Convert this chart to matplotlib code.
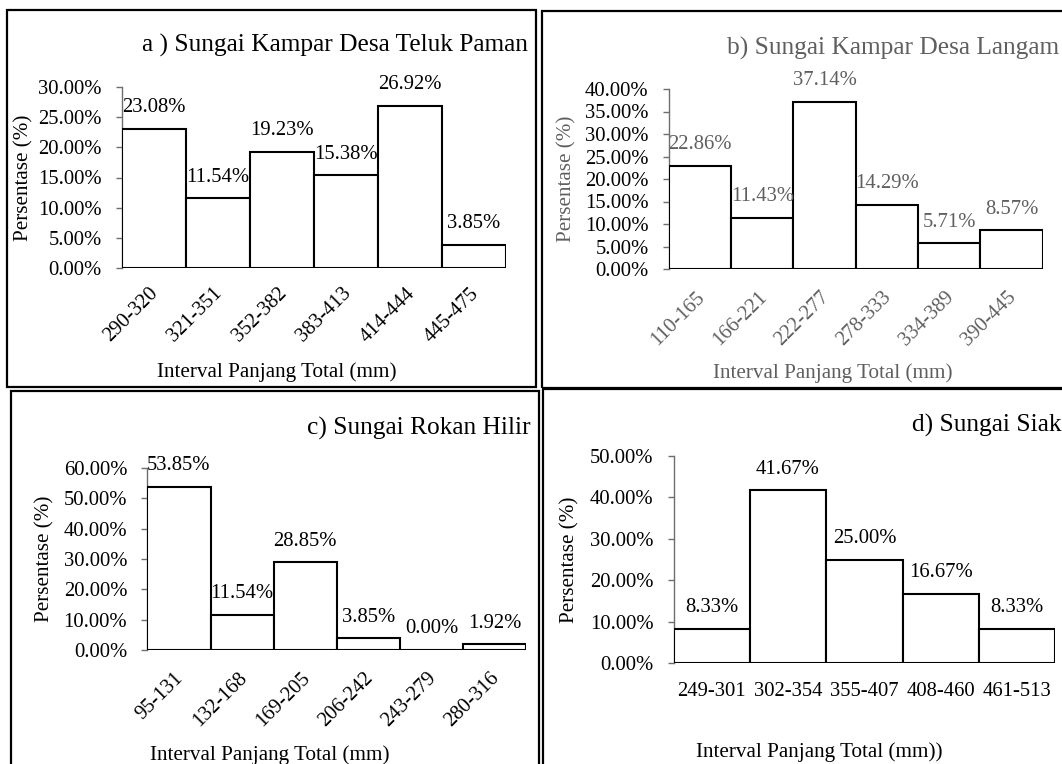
import matplotlib
matplotlib.use("Agg")
import matplotlib.pyplot as plt
from matplotlib.patches import Rectangle
from matplotlib.ticker import PercentFormatter
from matplotlib.transforms import ScaledTranslation

plt.rcParams['font.family'] = ['Liberation Serif', 'DejaVu Serif']

W, H = 1062, 764

# ---- data -------------------------------------------------------------
bins_a = ["290-320", "321-351", "352-382", "383-413", "414-444", "445-475"]
pct_a = [23.08, 11.54, 19.23, 15.38, 26.92, 3.85]

bins_b = ["110-165", "166-221", "222-277", "278-333", "334-389", "390-445"]
pct_b = [22.86, 11.43, 37.14, 14.29, 5.71, 8.57]

bins_c = ["95-131", "132-168", "169-205", "206-242", "243-279", "280-316"]
pct_c = [53.85, 11.54, 28.85, 3.85, 0.00, 1.92]

bins_d = ["249-301", "302-354", "355-407", "408-460", "461-513"]
pct_d = [8.33, 41.67, 25.00, 16.67, 8.33]

title_a = "a ) Sungai Kampar Desa Teluk Paman"
title_b = "b) Sungai Kampar Desa Langam"
title_c = "c) Sungai Rokan Hilir"
title_d = "d) Sungai Siak"
xlabel = "Interval Panjang Total (mm)"
xlabel_d = "Interval Panjang Total (mm))"
ylabel = "Persentase (%)"

fig = plt.figure(figsize=(W / 100, H / 100), dpi=100)
fig.patch.set_facecolor("white")

FS = 14.9
FS_LAB = 15.2
FS_TITLE = 18.3
GRAY = "#5f5f5f"


def px_axes(x0, x1, ytop, ybot):
    return fig.add_axes([x0 / W, 1 - ybot / H, (x1 - x0) / W, (ybot - ytop) / H])


def panel(rect, bins, pct, ymax, ystep, title, title_xy, xlab, xlab_xy, ylab_x,
          rot=True, text_color="black", xpad=3.0):
    x0, x1, ytop, ybot = rect
    ax = px_axes(x0, x1, ytop, ybot)
    n = len(bins)
    pos = list(range(n))
    ax.bar(pos, pct, width=1.0, color="white", edgecolor="black",
           linewidth=1.5, zorder=3)
    ax.set_xlim(-0.5, n - 0.5)
    ax.set_ylim(0, ymax)
    ax.set_yticks([i * ystep for i in range(int(round(ymax / ystep)) + 1)])
    ax.yaxis.set_major_formatter(PercentFormatter(decimals=2))
    for s in ("top", "right", "bottom"):
        ax.spines[s].set_visible(False)
    ax.spines["left"].set_color("#6e6e6e")
    ax.spines["left"].set_linewidth(1.0)
    ax.tick_params(axis="y", direction="out", length=4.5, width=1.0,
                   color="#6e6e6e", labelsize=FS, pad=10, labelcolor="black")
    ax.set_xticks(pos)
    if rot:
        ax.set_xticklabels(bins, rotation=45, ha="right", va="center",
                           rotation_mode="anchor", fontsize=FS, color=text_color)
        ax.tick_params(axis="x", length=0, pad=xpad)
        shift = ScaledTranslation(2 / 100, 0, fig.dpi_scale_trans)
        for lbl in ax.get_xticklabels():
            lbl.set_transform(lbl.get_transform() + shift)
    else:
        ax.set_xticklabels(bins, fontsize=FS, color=text_color)
        ax.tick_params(axis="x", length=0, pad=xpad)
    for p, v in zip(pos, pct):
        ax.annotate(f"{v:.2f}%", xy=(p, v), xytext=(0, 12), textcoords="offset points",
                    ha="center", va="baseline", fontsize=FS, color=text_color,
                    zorder=4, annotation_clip=False)
    ax.set_facecolor("none")
    # panel title, axis titles
    fig.text(title_xy[0] / W, 1 - title_xy[1] / H, title, ha="right",
             va="baseline", fontsize=FS_TITLE, color=text_color)
    fig.text(xlab_xy[0] / W, 1 - xlab_xy[1] / H, xlab, ha="center",
             va="center", fontsize=FS_LAB, color=text_color)
    fig.text(ylab_x / W, 1 - ((ytop + ybot) / 2) / H, ylabel, ha="center",
             va="center", rotation=90, fontsize=FS_LAB, color=text_color)
    return ax


panel((121.7, 506, 87.3, 267.7), bins_a, pct_a, 30, 5, title_a, (527.5, 52),
      xlabel, (277, 372), 24, xpad=16.5)
panel((668.8, 1042.6, 89, 269), bins_b, pct_b, 40, 5, title_b, (1059, 55),
      xlabel, (832.5, 373), 567, text_color=GRAY, xpad=18.5)
panel((147.4, 526.2, 468, 650), bins_c, pct_c, 60, 10, title_c, (530.3, 435),
      xlabel, (269.8, 755), 44.8, xpad=18.5)
panel((673.5, 1055.3, 456, 663), bins_d, pct_d, 50, 10, title_d, (1061, 432),
      xlabel_d, (819, 752), 570.3, rot=False, xpad=13.5)

# panel frames
def frame(x0, y0, x1, y1):
    fig.add_artist(Rectangle((x0 / W, 1 - y1 / H), (x1 - x0) / W, (y1 - y0) / H,
                             transform=fig.transFigure, fill=False,
                             edgecolor="black", linewidth=1.6))

frame(7, 9.5, 536, 387)
frame(542, 11, 1070, 388.5)
frame(11, 391, 539, 775)
frame(542.5, 388.5, 1070, 775)

fig.savefig("out.png", dpi=100, facecolor="white")
